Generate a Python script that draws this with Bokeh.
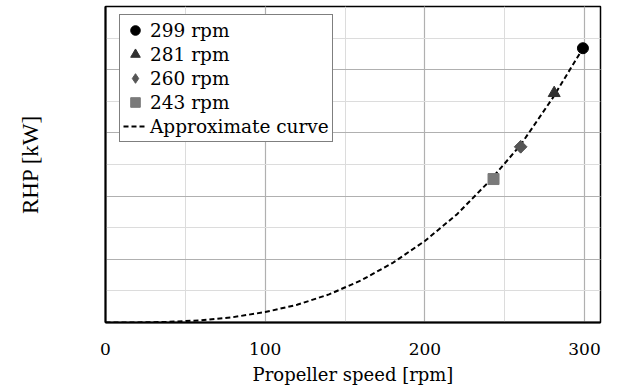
from bokeh.plotting import figure
from bokeh.models import SingleIntervalTicker, FixedTicker, Range1d, Legend, LegendItem
from bokeh.embed import file_html
from bokeh.resources import INLINE
import math

# Measured operating points
rpm_points = [299, 281, 260, 243]
rhp_points = [8.68, 7.26, 5.56, 4.54]
point_labels = ["299 rpm", "281 rpm", "260 rpm", "243 rpm"]

# Approximate curve
curve_rpm = [0, 20, 40, 60, 80, 100, 120, 140, 160, 180, 200, 220, 240, 260, 280, 299]
curve_rhp = [0.0, 0.003, 0.02, 0.07, 0.17, 0.33, 0.56, 0.89, 1.33, 1.89, 2.58, 3.42, 4.45, 5.62, 7.10, 8.68]

x_ticks = [0, 100, 200, 300]

SERIF = "'DejaVu Serif', 'Liberation Serif', serif"
TIMES = "'Liberation Serif', serif"

p = figure(width=619, height=387, output_backend="svg", toolbar_location=None,
           x_range=Range1d(0, 310), y_range=Range1d(0, 10),
           min_border_left=105, min_border_right=19, min_border_top=6, min_border_bottom=64)
p.background_fill_color = "white"
p.border_fill_color = "white"
p.outline_line_color = "black"
p.outline_line_width = 1.5

p.xaxis.ticker = FixedTicker(ticks=x_ticks)
p.xgrid.ticker = SingleIntervalTicker(interval=100, num_minor_ticks=2)
p.yaxis.ticker = FixedTicker(ticks=[])
p.ygrid.ticker = SingleIntervalTicker(interval=2, num_minor_ticks=2)

p.xgrid.grid_line_color = "#b0b0b0"
p.ygrid.grid_line_color = "#b0b0b0"
p.xgrid.minor_grid_line_color = "#dcdcdc"
p.ygrid.minor_grid_line_color = "#dcdcdc"
p.xgrid.grid_line_width = 1.2
p.ygrid.grid_line_width = 1.2

for ax in (p.xaxis[0], p.yaxis[0]):
    ax.axis_line_color = "black"
    ax.axis_line_width = 2
    ax.major_tick_line_color = None
    ax.minor_tick_line_color = None
    ax.major_tick_out = 0
    ax.major_tick_in = 0
    ax.minor_tick_out = 0

p.xaxis.major_label_text_font = SERIF
p.xaxis.major_label_text_font_size = "17px"
p.xaxis.major_label_text_color = "black"
p.xaxis.major_label_standoff = 20
p.xaxis.axis_label = "Propeller speed [rpm]"
p.xaxis.axis_label_text_font = SERIF
p.xaxis.axis_label_text_font_size = "18px"
p.xaxis.axis_label_text_font_style = "normal"
p.xaxis.axis_label_text_color = "black"
p.xaxis.axis_label_standoff = 6

p.yaxis.major_label_standoff = 0
p.yaxis.axis_label = "RHP [kW]"
p.yaxis.axis_label_text_font = TIMES
p.yaxis.axis_label_text_font_size = "23px"
p.yaxis.axis_label_text_font_style = "normal"
p.yaxis.axis_label_text_color = "black"
p.yaxis.axis_label_standoff = 63

curve = p.line(curve_rpm, curve_rhp, line_color="black", line_width=2, line_dash="5 3")

markers = ["circle", "triangle", "diamond", "square"]
colors = ["#000000", "#303030", "#555555", "#7a7a7a"]
sizes = [11, 12, 12, 11]
items = []
for x, y, lab, m, c, s in zip(rpm_points, rhp_points, point_labels, markers, colors, sizes):
    r = p.scatter([x], [y], marker=m, size=s, fill_color=c, line_color=c)
    if m == "diamond":
        # square diamond shape in the plot area (rotated square drawn over the marker)
        p.scatter([x], [y], marker="square", angle=math.pi / 4, size=9,
                  fill_color=c, line_color=c)
    items.append(LegendItem(label=lab, renderers=[r]))
items.append(LegendItem(label="Approximate curve", renderers=[curve]))

legend = Legend(items=items, location=(14, 180), orientation="vertical")
legend.label_text_font = SERIF
legend.label_text_font_size = "18.5px"
legend.label_text_color = "black"
legend.glyph_width = 24
legend.glyph_height = 24
legend.label_height = 24
legend.spacing = 0
legend.padding = 3
legend.margin = 0
legend.label_standoff = 3
legend.border_line_color = "black"
legend.border_line_width = 1
legend.background_fill_color = "white"
legend.background_fill_alpha = 1
p.add_layout(legend, "center")

open("out.html", "w").write(file_html(p, INLINE))
